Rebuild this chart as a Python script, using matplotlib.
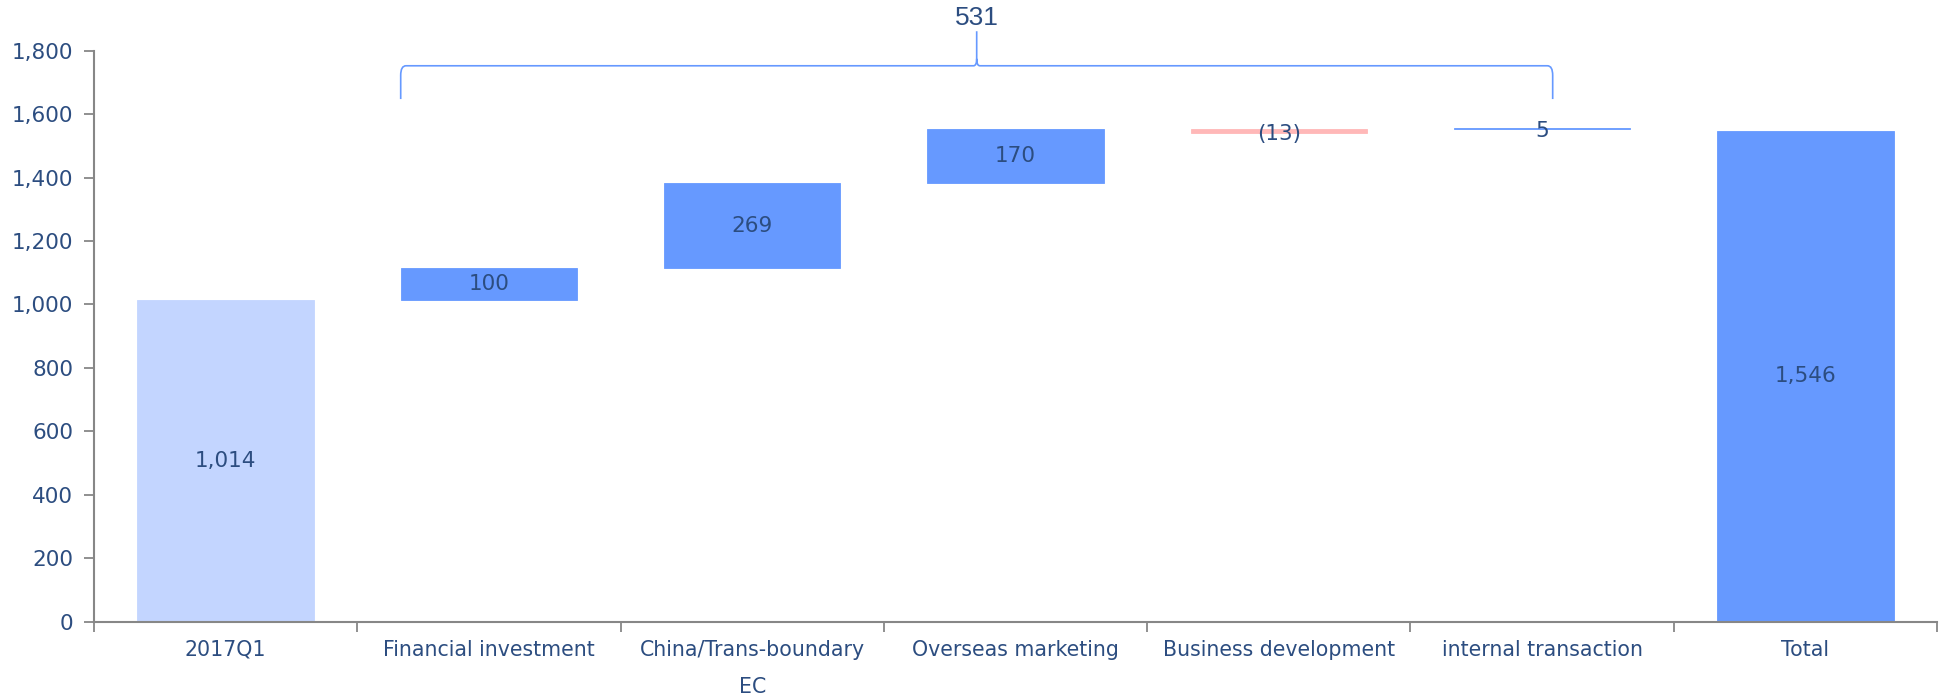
import matplotlib
matplotlib.use("Agg")
import matplotlib.pyplot as plt
from matplotlib.path import Path
from matplotlib.patches import PathPatch
import numpy as np

# Waterfall data
categories = ["2017Q1", "Financial investment", "China/Trans-boundary\nEC",
              "Overseas marketing", "Business development", "internal transaction", "Total"]
start_value = 1014
changes = [100, 269, 170, -13, 5]
total_value = 1546
bar_labels = ["1,014", "100", "269", "170", "(13)", "5", "1,546"]

text_color = "#2C4D80"
light_blue = "#C3D5FF"
blue = "#6699FF"
pink = "#FFB8B8"
axis_grey = "#878787"

fig = plt.figure(figsize=(19.41, 6.97), dpi=100)
ax = fig.add_axes([0.0484, 0.1083, 0.9496, 0.8187])

x = np.arange(len(categories))
width = 0.67

# bottoms / heights of each bar; a decrease hangs below the current level,
# the next step starts again from that level
bottoms = [0]
heights = [start_value]
level = start_value
for c in changes:
    if c >= 0:
        bottoms.append(level)
        heights.append(c)
        level += c
    else:
        bottoms.append(level + c)
        heights.append(-c)
bottoms.append(0)
heights.append(total_value)

colors = [light_blue] + [blue if c >= 0 else pink for c in changes] + [blue]
ax.bar(x, heights, width=width, bottom=bottoms, color=colors, edgecolor=colors, linewidth=0.6)

for xi, b, h, lab in zip(x, bottoms, heights, bar_labels):
    ax.text(xi, b + h / 2 - (8 if h < 20 else 0), lab, ha="center", va="center",
            fontsize=15.5, color=text_color)

# curly bracket over the change bars
xl = x[1] - width / 2
xr = x[5] + 0.04
xc = (xl + xr) / 2
y_bot = 1648
y_top = 1753
y_peak = 1862
rx, ry = 0.02, 30
sx, sy = 0.012, 22
verts = [(xl, y_bot), (xl, y_top - ry), (xl, y_top), (xl + rx, y_top),
         (xc - sx, y_top), (xc, y_top), (xc, y_top + sy), (xc, y_peak),
         (xc, y_top + sy), (xc, y_top), (xc + sx, y_top),
         (xr - rx, y_top), (xr, y_top), (xr, y_top - ry), (xr, y_bot)]
codes = [Path.MOVETO, Path.LINETO, Path.CURVE3, Path.CURVE3,
         Path.LINETO, Path.CURVE3, Path.CURVE3, Path.LINETO,
         Path.MOVETO, Path.CURVE3, Path.CURVE3,
         Path.LINETO, Path.CURVE3, Path.CURVE3, Path.LINETO]
brace = PathPatch(Path(verts, codes), fill=False, edgecolor=blue, linewidth=1.2, clip_on=False)
ax.add_patch(brace)
ax.text(xc, y_peak + 5, f"{sum(changes):,}", ha="center", va="bottom", fontsize=19,
        color=text_color, family="Liberation Sans")

ax.set_xlim(-0.5, len(categories) - 0.5)
ax.set_ylim(0, 1800)
ax.set_yticks(np.arange(0, 1801, 200))
ax.set_yticklabels([f"{v:,}" for v in range(0, 1801, 200)])

ax.set_xticks(x)
ax.set_xticklabels(categories)
ax.set_xticks(np.arange(-0.5, len(categories)), minor=True)
ax.tick_params(axis="x", which="major", length=0, pad=13, labelsize=14.8, labelcolor=text_color)
ax.tick_params(axis="x", which="minor", length=7, width=1.3, color=axis_grey, direction="out")
ax.tick_params(axis="y", length=7, width=1.3, color=axis_grey, labelsize=15.5, labelcolor=text_color, pad=8)
for lab in ax.get_xticklabels():
    lab.set_verticalalignment("top")
    lab.set_linespacing(2.1)

for side in ["top", "right"]:
    ax.spines[side].set_visible(False)
for side in ["left", "bottom"]:
    ax.spines[side].set_color(axis_grey)
    ax.spines[side].set_linewidth(1.5)

plt.savefig("out.png", dpi=100)
